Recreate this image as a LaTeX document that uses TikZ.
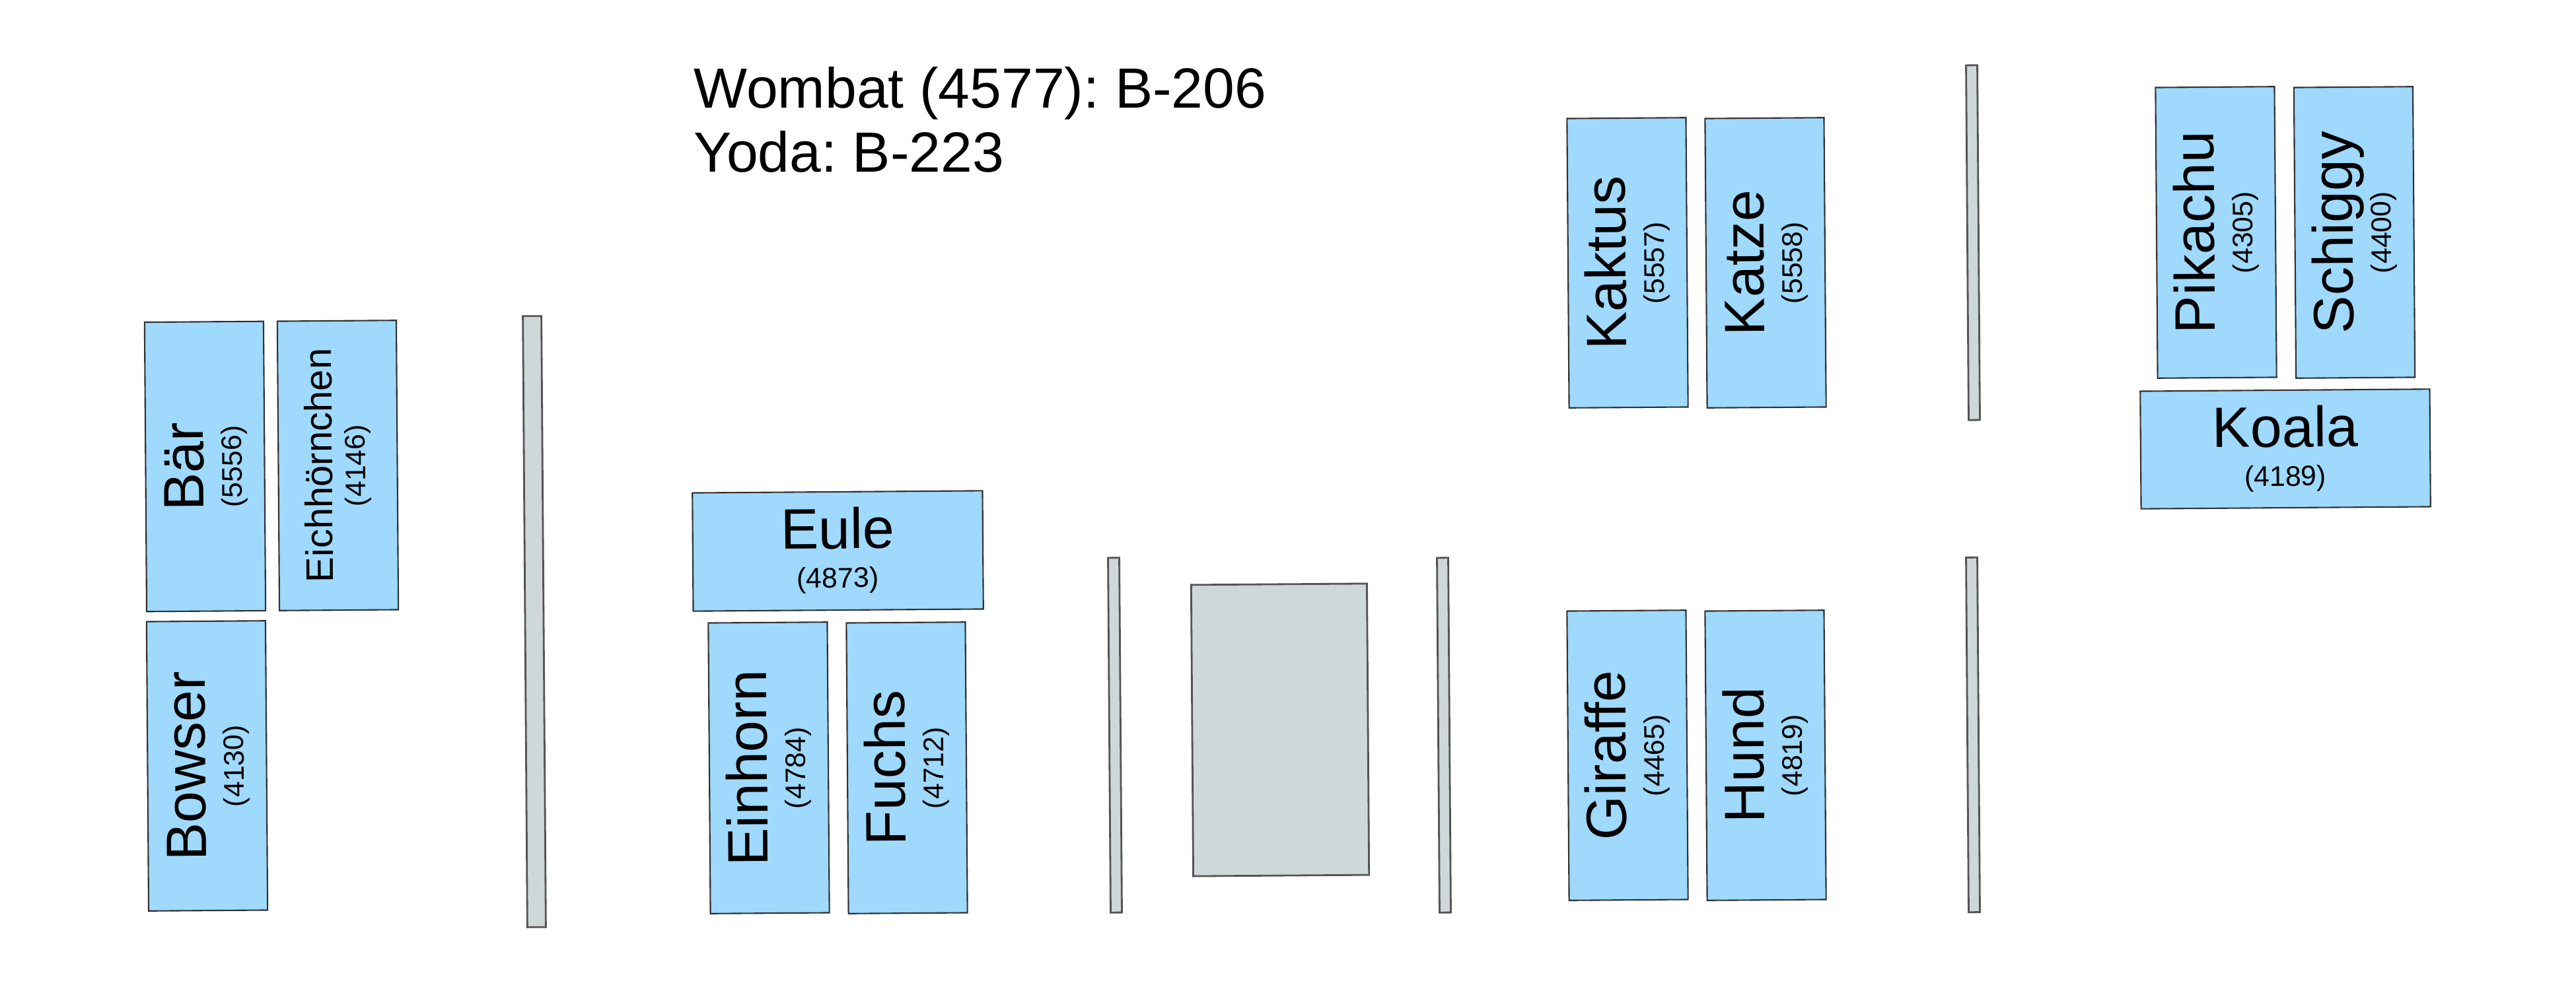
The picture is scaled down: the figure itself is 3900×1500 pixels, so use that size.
\documentclass[tikz,border=0pt]{standalone}
\usepackage{fontspec}
\setmainfont{Liberation Sans}
\frenchspacing
\definecolor{boxblue}{RGB}{159,217,253}
\definecolor{wallgray}{RGB}{207,216,216}
\definecolor{edgecol}{RGB}{50,50,50}
\definecolor{walledge}{RGB}{85,85,85}
\tikzset{
  desk/.style={draw=edgecol, fill=boxblue, line width=0.6pt, inner sep=0pt, outer sep=0pt, rotate=0.42},
  wall/.style={draw=walledge, fill=wallgray, line width=0.8pt, inner sep=0pt, outer sep=0pt, rotate=0.42},
  bigv/.style={font=\fontsize{24.5}{28}\selectfont, inner sep=0pt, anchor=base, rotate=90.42},
  midv/.style={font=\fontsize{16.5}{20}\selectfont, inner sep=0pt, anchor=base, rotate=90.42},
  numv/.style={font=\fontsize{12.2}{14}\selectfont, inner sep=0pt, anchor=base, rotate=90.42},
  bigh/.style={font=\fontsize{24.5}{28}\selectfont, inner sep=0pt, anchor=base, rotate=0.42},
  numh/.style={font=\fontsize{12.2}{14}\selectfont, inner sep=0pt, anchor=base, rotate=0.42},
  note/.style={font=\fontsize{24.4}{28}\selectfont, inner sep=0pt, anchor=base west},
  vdesk/.style={desk, minimum width=1.80cm, minimum height=4.38cm},
  hdesk/.style={desk, minimum width=4.38cm, minimum height=1.79cm},
  pillar/.style={wall, minimum width=0.17cm, minimum height=5.37cm},
}
\begin{document}
\begin{tikzpicture}[x=0.01cm, y=-0.01cm]
\useasboundingbox[fill=white] (0,0) rectangle (3900,1500);

% notes
\node[note] (wombat) at (1050,163) {Wombat (4577): B-206};
\node[note] (yoda) at (1050,260) {Yoda: B-223};

% left group
\node[vdesk] (baer) at (310.5,706.5) {};
\node[bigv] (baerT) at (308,706.5) {Bär};
\node[numv] (baerN) at (366,706.5) {(5556)};

\node[vdesk] (eich) at (511.5,705) {};
\node[midv] (eichT) at (503,705) {Eichhörnchen};
\node[numv] (eichN) at (553,705) {(4146)};

\node[vdesk] (bowser) at (313.5,1160) {};
\node[bigv] (bowserT) at (311,1160) {Bowser};
\node[numv] (bowserN) at (369,1160) {(4130)};

\node[wall, minimum width=0.28cm, minimum height=9.25cm] (wallL) at (809,941.5) {};

% middle group
\node[hdesk, minimum height=1.79cm, minimum width=4.39cm] (eule) at (1268.5,834.5) {};
\node[bigh] (euleT) at (1268.5,831) {Eule};
\node[numh] (euleN) at (1268.5,890) {(4873)};

\node[vdesk, minimum height=4.40cm] (einhorn) at (1164,1163) {};
\node[bigv] (einhornT) at (1161.5,1163) {Einhorn};
\node[numv] (einhornN) at (1219.5,1163) {(4784)};

\node[vdesk, minimum height=4.40cm] (fuchs) at (1373,1163) {};
\node[bigv] (fuchsT) at (1370.5,1163) {Fuchs};
\node[numv] (fuchsN) at (1428.5,1163) {(4712)};

\node[pillar] (wall2) at (1688,1113.5) {};
\node[wall, minimum width=2.66cm, minimum height=4.41cm] (block) at (1938,1105.5) {};
\node[pillar] (wall3) at (2186,1113.5) {};

% right-middle group
\node[vdesk] (kaktus) at (2464,398) {};
\node[bigv] (kaktusT) at (2461.5,398) {Kaktus};
\node[numv] (kaktusN) at (2519.5,398) {(5557)};

\node[vdesk] (katze) at (2673,398) {};
\node[bigv] (katzeT) at (2670.5,398) {Katze};
\node[numv] (katzeN) at (2728.5,398) {(5558)};

\node[vdesk] (giraffe) at (2464,1144) {};
\node[bigv] (giraffeT) at (2461.5,1144) {Giraffe};
\node[numv] (giraffeN) at (2519.5,1144) {(4465)};

\node[vdesk] (hund) at (2673,1144) {};
\node[bigv] (hundT) at (2670.5,1144) {Hund};
\node[numv] (hundN) at (2728.5,1144) {(4819)};

\node[pillar] (wall4a) at (2987,367.5) {};
\node[pillar] (wall4b) at (2987,1113) {};

% right group
\node[vdesk, minimum height=4.40cm] (pikachu) at (3355,352) {};
\node[bigv] (pikachuT) at (3352.5,352) {Pikachu};
\node[numv] (pikachuN) at (3410.5,352) {(4305)};

\node[vdesk, minimum height=4.40cm] (schiggy) at (3564.5,352) {};
\node[bigv] (schiggyT) at (3562,352) {Schiggy};
\node[numv] (schiggyN) at (3620,352) {(4400)};

\node[hdesk, minimum width=4.38cm, minimum height=1.78cm] (koala) at (3460,680) {};
\node[bigh] (koalaT) at (3460,677) {Koala};
\node[numh] (koalaN) at (3460,736) {(4189)};
\end{tikzpicture}
\end{document}
